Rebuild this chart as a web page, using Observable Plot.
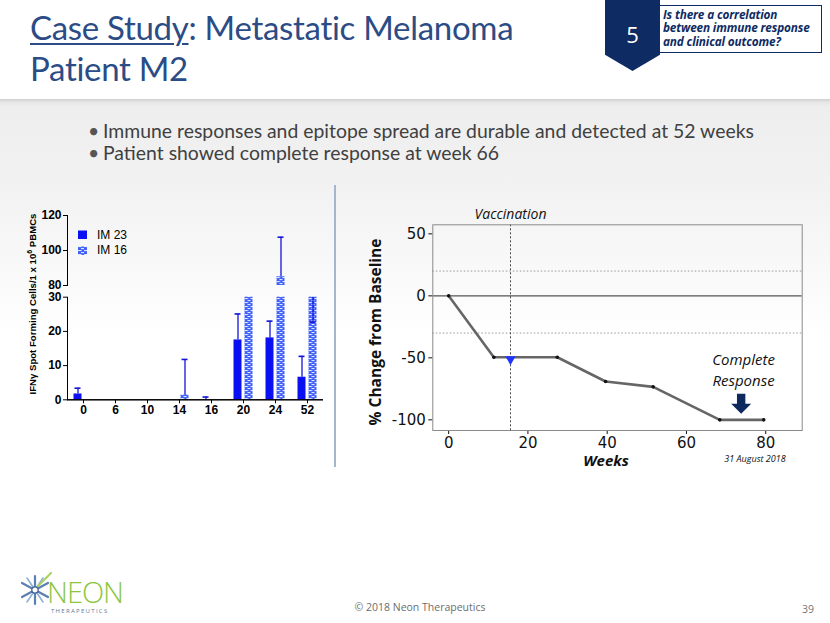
<!DOCTYPE html>
<html><head><meta charset="utf-8">
<script src="https://cdn.jsdelivr.net/npm/d3@7"></script>
<script src="https://cdn.jsdelivr.net/npm/@observablehq/plot@0.6"></script>
<style>
html,body{margin:0;padding:0;}
body{width:830px;height:623px;position:relative;overflow:hidden;background:#fff;font-family:Lato,"Open Sans",sans-serif;}
.abs{position:absolute;}
#band{left:0;top:99px;width:830px;height:524px;background:linear-gradient(#cfcfcf 0px,#e6e6e6 3px,#eeeeee 8px,#f2f2f2 90px,#f9f9f9 170px,#ffffff 240px);}
#title{left:30px;top:7px;font-family:Lato,sans-serif;font-size:33px;line-height:41px;color:#2b4c85;letter-spacing:-0.3px;white-space:nowrap;}
#title u{text-decoration-thickness:2px;text-underline-offset:3px;}
#badge{left:605px;top:0;width:55px;height:71px;background:#0e2b63;clip-path:polygon(0 0,100% 0,100% 77%,50% 100%,0 77%);}
#badgeNum{left:605px;top:20px;width:55px;text-align:center;color:#fff;font-family:"Open Sans",sans-serif;font-size:22px;line-height:28px;}
#qbox{left:659px;top:5px;width:161px;height:46px;border:1.5px solid #0e2b63;background:#fff;}
#qtext{left:663px;top:8px;font-family:"Open Sans",sans-serif;font-weight:700;font-style:italic;font-size:11.8px;line-height:13.4px;color:#0e2b63;white-space:nowrap;letter-spacing:-0.15px;}
.bul{left:103px;font-family:Lato,sans-serif;font-size:19.4px;line-height:22px;color:#404040;white-space:nowrap;}
.bul:before{content:"\2022";position:absolute;left:-15px;color:#555;}
#divider{left:334px;top:185px;width:2px;height:282px;background:#a5b4cf;}
#leftLabel{left:-67px;top:298px;width:200px;text-align:center;transform:rotate(-90deg);font-family:"Liberation Sans",Arial,sans-serif;font-weight:bold;font-size:9.6px;line-height:12px;white-space:nowrap;color:#000;}
#leftLabel sup{font-size:7px;line-height:0;}
.leg{font-family:"Liberation Sans",Arial,sans-serif;font-size:12px;color:#000;line-height:14px;white-space:nowrap;}
#rightLabel{left:275px;top:322px;width:200px;text-align:center;transform:rotate(-90deg);font-family:"Open Sans",sans-serif;font-weight:700;font-size:15.5px;line-height:20px;white-space:nowrap;color:#111;}
#weeks{left:560px;top:452px;width:92px;text-align:center;font-family:"Open Sans",sans-serif;font-weight:700;font-style:italic;font-size:15px;line-height:16px;color:#111;}
#date{left:705px;top:453px;width:100px;text-align:center;font-family:"Open Sans",sans-serif;font-style:italic;font-size:9px;line-height:11px;color:#111;}
#copy{left:330px;top:600px;width:180px;text-align:center;font-family:"Open Sans",sans-serif;font-size:10.5px;line-height:14px;color:#6d6d6d;}
#page{left:796px;top:602px;width:24px;text-align:center;font-family:"Open Sans",sans-serif;font-size:10.5px;line-height:14px;color:#777;}
#neon{left:47px;top:582px;font-family:"Open Sans",sans-serif;font-weight:300;font-size:29px;line-height:20px;color:#8cc63e;letter-spacing:-1px;}
#thera{left:51px;top:608px;font-family:"Open Sans",sans-serif;font-size:6px;line-height:7px;color:#5a7a9a;letter-spacing:1.3px;}
</style></head>
<body>
<div id="band" class="abs"></div>
<div id="title" class="abs"><u>Case Study</u>: Metastatic Melanoma<br>Patient M2</div>
<div id="badge" class="abs"></div>
<div id="badgeNum" class="abs">5</div>
<div id="qbox" class="abs"></div>
<div id="qtext" class="abs">Is there a correlation<br>between immune response<br>and clinical outcome?</div>
<div class="abs bul" style="top:120px">Immune responses and epitope spread are durable and detected at 52 weeks</div>
<div class="abs bul" style="top:142px">Patient showed complete response at week 66</div>
<div id="divider" class="abs"></div>
<div id="leftUpper" class="abs" style="left:0;top:205px;"></div>
<div id="leftLower" class="abs" style="left:0;top:290px;"></div>
<div id="rightChart" class="abs" style="left:355px;top:195px;"></div>
<div id="leftLabel" class="abs">IFNγ Spot Forming Cells/1 x 10<sup>6</sup> PBMCs</div>
<div class="abs" style="left:78px;top:230px;"><svg width="10" height="26"><rect x="0" y="0.5" width="9" height="8.5" fill="#0a10f2"/><rect x="0" y="16.5" width="9" height="8.5" fill="url(#brick)"/></svg></div>
<div class="abs leg" style="left:97px;top:228px;">IM 23</div>
<div class="abs leg" style="left:97px;top:243px;">IM 16</div>
<div id="rightLabel" class="abs">% Change from Baseline</div>
<div id="weeks" class="abs">Weeks</div>
<div id="date" class="abs">31 August 2018</div>
<div class="abs" style="left:18px;top:572px;"><svg width="34" height="36" viewBox="-17 -18 34 36">
<g stroke-linecap="round">
<line x1="0" y1="-14" x2="0" y2="14" stroke="#5b7fb0" stroke-width="2.2"/>
<line x1="-13" y1="-7" x2="13" y2="7" stroke="#5b7fb0" stroke-width="2.2"/>
<line x1="-13" y1="7" x2="13" y2="-7" stroke="#5b7fb0" stroke-width="2.2"/>
<line x1="-8" y1="-12" x2="8" y2="12" stroke="#8fb0d6" stroke-width="1.6"/>
<line x1="-8" y1="12" x2="8" y2="-12" stroke="#8fb0d6" stroke-width="1.6"/>
<line x1="3" y1="-4" x2="16" y2="-17" stroke="#a6d25a" stroke-width="2"/>
<circle r="3.2" fill="#fff" stroke="#3c5f92" stroke-width="1.2"/>
</g></svg></div>
<div id="neon" class="abs">NEON</div>
<div id="thera" class="abs">THERAPEUTICS</div>
<div id="copy" class="abs">© 2018 Neon Therapeutics</div>
<div id="page" class="abs">39</div>

<script>
// ---------- Left chart data (IFNγ ELISpot) ----------
const weeks = ["0", "6", "10", "14", "16", "20", "24", "52"];
const seriesNames = ["IM 23", "IM 16"];
const im23Value   = [1.7, 0, 0, 0, 0,   17.5, 18.1, 6.6];
const im23ErrLow  = [1.7, 0, 0, 0, 0,   17.5, 18.1, 6.6];
const im23ErrHigh = [3.4, 0, 0, 0, 0.8, 25.1, 23.0, 12.7];
const im16Value   = [0, 0, 0, 1.5,  0, 31, 85,    31];
const im16ErrLow  = [0, 0, 0, 1.5,  0, 31, 85,    22.7];
const im16ErrHigh = [0, 0, 0, 11.8, 0, 32, 107.6, 31];
const lowerDomain = [0, 30];
const upperDomain = [80, 120];
const lowerTicks = [0, 10, 20, 30];
const upperTicks = [80, 100, 120];

// ---------- Right chart data (tumour burden) ----------
const respWeeks  = [0, 11.4, 27.4, 39.6, 51.6, 68.4, 79.5];
const respChange = [0, -49.5, -49.5, -69.1, -73.4, -100, -100];
const vaccinationWeek = 15.6;
const vaccinationChange = -49.5;
const refLines = [20, -30];
const xTicksRight = [0, 20, 40, 60, 80];
const yTicksRight = [-100, -50, 0, 50];
const crArrowWeek = 73.8;
const crArrowChange = -87;
const crTextWeek = 74.4;
const crTextChange = -59;

// ---------- Left chart (broken y axis: two stacked panels) ----------
const barRows = weeks.flatMap((w, i) => [
  {week: w, series: "IM 23", value: im23Value[i], lo: im23ErrLow[i], hi: im23ErrHigh[i]},
  {week: w, series: "IM 16", value: im16Value[i], lo: im16ErrLow[i], hi: im16ErrHigh[i]}
]);
const errRows = barRows.filter(d => d.hi > d.lo);
const capRows = errRows.flatMap(d => [
  ...(d.hi > d.value ? [{...d, cap: d.hi}] : []),
  ...(d.lo < d.value ? [{...d, cap: d.lo}] : [])
]);
const blue = "#0a10f2", errBlue = "#1414d8";

function panel({height, marginTop, marginBottom, domain, ticks, showFx}) {
  const inDom = v => v >= domain[0] && v <= domain[1];
  return Plot.plot({
    width: 335, height, marginLeft: 66.5, marginRight: 11.7, marginTop, marginBottom,
    style: {background: "transparent", fontFamily: "'Liberation Sans', Arial, sans-serif", fontSize: "12px", fontWeight: "bold", color: "#000", overflow: "visible"},
    fx: {domain: weeks, padding: 0, axis: showFx ? "bottom" : null, tickSize: 4, tickPadding: 2, label: null},
    x: {domain: seriesNames, paddingInner: 0.29, paddingOuter: 0.54, axis: null},
    y: {domain, clamp: true, ticks, tickSize: 4, tickPadding: 2, line: true, label: null, tickFormat: d => String(d)},
    marks: [
      Plot.barY(barRows.filter(d => d.series === "IM 23"), {fx: "week", x: "series", y: "value", fill: blue}),
      Plot.barY(barRows.filter(d => d.series === "IM 16"), {fx: "week", x: "series", y: "value", fill: "url(#brick)"}),
      Plot.ruleX(errRows.filter(d => d.hi > domain[0] && d.lo < domain[1]), {fx: "week", x: "series", y1: "lo", y2: "hi", stroke: errBlue, strokeWidth: 1.3}),
      Plot.tickY(capRows.filter(d => inDom(d.cap)), {fx: "week", x: "series", y: "cap", stroke: errBlue, strokeWidth: 1.6, inset: 1}),
      ...(showFx ? [Plot.ruleY([0], {stroke: "#000", strokeWidth: 1.5})] : [])
    ]
  });
}
const upper = panel({height: 82, marginTop: 10, marginBottom: 2, domain: upperDomain, ticks: upperTicks, showFx: false});
const lower = panel({height: 135, marginTop: 6.7, marginBottom: 25.7, domain: lowerDomain, ticks: lowerTicks, showFx: true});
d3.select(lower).insert("defs", ":first-child").html(
  `<pattern id="brick" patternUnits="userSpaceOnUse" width="6" height="4">
     <rect width="6" height="4" fill="#3f5ff8"/>
     <rect x="0" y="0" width="3.5" height="1.1" fill="#dfe6ff"/>
     <rect x="3" y="2" width="3.5" height="1.1" fill="#dfe6ff"/>
   </pattern>`);
document.getElementById("leftUpper").appendChild(upper);
document.getElementById("leftLower").appendChild(lower);

// ---------- Right chart ----------
const resp = respWeeks.map((w, i) => ({week: w, change: respChange[i]}));
const blockArrow = {
  draw(ctx, size) {
    const r = Math.sqrt(size / Math.PI), s = r * 0.42;
    ctx.moveTo(-s, -r); ctx.lineTo(s, -r); ctx.lineTo(s, 0); ctx.lineTo(r, 0);
    ctx.lineTo(0, r); ctx.lineTo(-r, 0); ctx.lineTo(-s, 0); ctx.closePath();
  }
};
const right = Plot.plot({
  width: 460, height: 270,
  marginLeft: 77.3, marginRight: 13.3, marginTop: 29.3, marginBottom: 35,
  style: {background: "transparent", fontFamily: "'DejaVu Sans', Verdana, sans-serif", fontSize: "15px", color: "#111", overflow: "visible"},
  x: {domain: [-4, 89.2], ticks: xTicksRight, tickSize: 4, tickPadding: 3, label: null, tickFormat: d => String(d)},
  y: {domain: [-108.6, 57.3], ticks: yTicksRight, tickSize: 4, tickPadding: 3, label: null, tickFormat: d => String(d)},
  marks: [
    Plot.ruleY(refLines, {stroke: "#9a9a9a", strokeDasharray: "1.5,2", strokeWidth: 1}),
    Plot.ruleY([0], {stroke: "#555", strokeWidth: 1.2}),
    Plot.ruleX([vaccinationWeek], {stroke: "#444", strokeDasharray: "2,2", strokeWidth: 1}),
    Plot.frame({stroke: "#8a8a8a"}),
    Plot.line(resp, {x: "week", y: "change", stroke: "#666", strokeWidth: 2.6}),
    Plot.dot(resp, {x: "week", y: "change", r: 1.8, fill: "#111"}),
    Plot.dot([{week: vaccinationWeek, change: vaccinationChange}], {x: "week", y: "change", symbol: "triangle", rotate: 180, r: 3.8, dy: 2, fill: "#1f35ff"}),
    Plot.dot([{week: crArrowWeek, change: crArrowChange}], {x: "week", y: "change", symbol: blockArrow, r: 10, fill: "#0d2a5e"}),
    Plot.text(["Vaccination"], {x: () => vaccinationWeek, frameAnchor: "top", lineAnchor: "bottom", dy: -6, text: d => d, fontStyle: "italic", fontFamily: "'Open Sans', sans-serif", fontSize: 14, fill: "#111"}),
    Plot.text(["Complete\nResponse"], {x: () => crTextWeek, y: () => crTextChange, text: d => d, lineHeight: 1.35, fontStyle: "italic", fontFamily: "'Open Sans', sans-serif", fontSize: 15, fill: "#111"})
  ]
});
document.getElementById("rightChart").appendChild(right);
</script>
</body></html>
